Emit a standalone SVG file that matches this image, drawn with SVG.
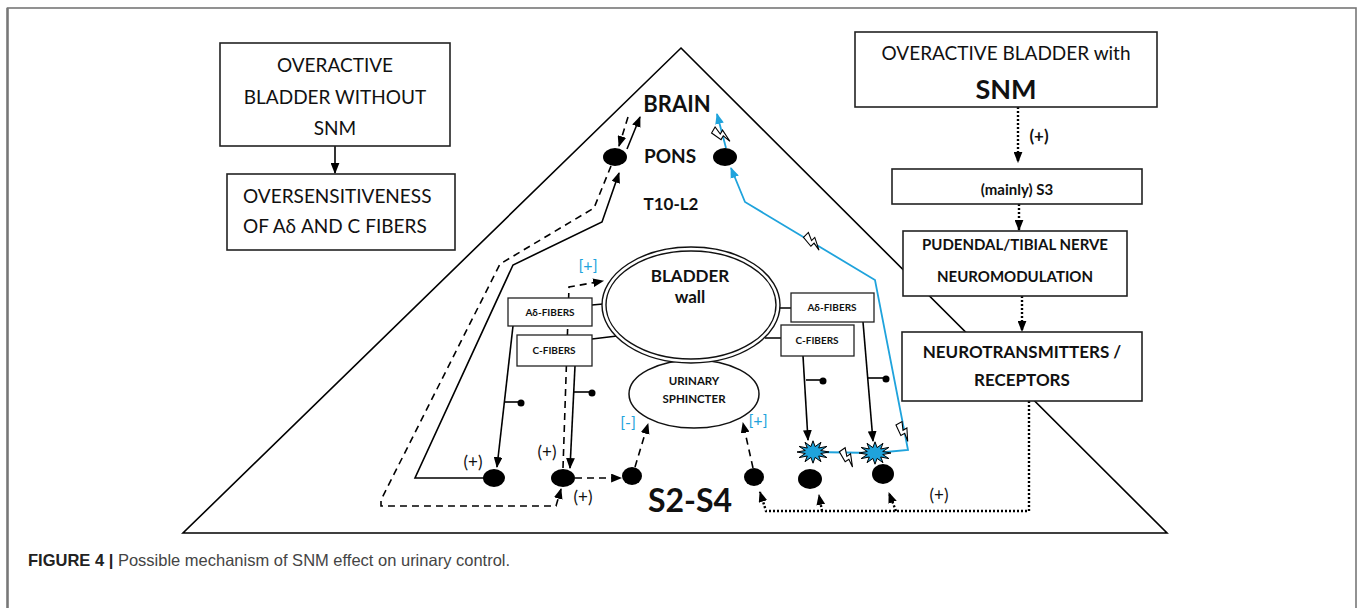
<svg xmlns="http://www.w3.org/2000/svg" width="1358" height="608" viewBox="0 0 1358 608">
<defs>
<style>
.box{fill:#fff;stroke:#222;stroke-width:1.6}
.fb{fill:#fff;stroke:#222;stroke-width:1.3}
.t{font-family:Lato,"Liberation Sans",sans-serif;fill:#111}
.b{font-weight:bold}
.ln{fill:none;stroke:#000;stroke-width:1.6}
.ds{fill:none;stroke:#000;stroke-width:1.6;stroke-dasharray:7 5}
.dt{fill:none;stroke:#000;stroke-width:2.4;stroke-dasharray:2 2}
.bl{fill:none;stroke:#1fa3dc;stroke-width:1.8}
.blt{fill:#1fa3dc}
.dot{fill:#000}
</style>
<marker id="ah" viewBox="0 0 10 8" refX="9" refY="4" markerWidth="11" markerHeight="9" markerUnits="userSpaceOnUse" orient="auto"><path d="M0,0L10,4L0,8z" fill="#000"/></marker>
<marker id="ahb" viewBox="0 0 10 8" refX="9" refY="4" markerWidth="11" markerHeight="9" markerUnits="userSpaceOnUse" orient="auto"><path d="M0,0L10,4L0,8z" fill="#1fa3dc"/></marker>
<path id="bolt" d="M-3.5,-10 L3.5,-10 L0,-2 L4.5,-2 L-1.5,10 L0,1.5 L-4.5,1.5 Z" fill="#fff" stroke="#000" stroke-width="1.1"/>
<path id="star" d="M16,0 L7.7,1.5 L13.9,5.6 L5.7,4 L8,9.7 L2.1,5.4 L0,11.2 L-2.1,5.4 L-8,9.7 L-5.7,4 L-13.9,5.6 L-7.7,1.5 L-16,0 L-7.7,-1.5 L-13.9,-5.6 L-5.7,-4 L-8,-9.7 L-2.1,-5.4 L0,-11.2 L2.1,-5.4 L8,-9.7 L5.7,-4 L13.9,-5.6 L7.7,-1.5 Z" fill="#1fa3dc" stroke="#000" stroke-width="1"/>
</defs>
<rect width="1358" height="608" fill="#fff"/>
<rect x="7.5" y="8" width="1348.5" height="640" fill="none" stroke="#777" stroke-width="1.6"/>
<line x1="7.5" y1="8" x2="7.5" y2="608" stroke="#777" stroke-width="2.4"/>

<g id="triangle"><polygon points="681,48 1167,533 183,533" fill="none" stroke="#000" stroke-width="1.6"/></g>

<g id="connectors">
<line x1="335" y1="146" x2="335" y2="173" class="ln" marker-end="url(#ah)"/>
<line x1="1018" y1="107" x2="1018" y2="162" class="dt" marker-end="url(#ah)"/>
<line x1="1019" y1="204" x2="1019" y2="230" class="dt" marker-end="url(#ah)"/>
<line x1="1022" y1="296" x2="1022" y2="331" class="dt" marker-end="url(#ah)"/>
<path d="M1029,401 V511 H766 L760,492" class="dt" marker-end="url(#ah)"/>
<path d="M822,511 L819,495" class="dt" marker-end="url(#ah)"/>
<path d="M896,511 L889,493" class="dt" marker-end="url(#ah)"/>
<path d="M628,117 L619,146" class="ds" marker-end="url(#ah)"/>
<path d="M611,166 L594,208 L500,264 L381,500 L381,506 L556,506 L561,489" class="ds" marker-end="url(#ah)"/>
<path d="M485,478 L415,478 L513,265 L602,222 L619,173" class="ln" marker-end="url(#ah)"/>
<path d="M627,149 L640,117" class="ln" marker-end="url(#ah)"/>
<path d="M513,326 L497,467" class="ln" marker-end="url(#ah)"/>
<path d="M505,402 H521" class="ln"/><circle cx="521" cy="403" r="3.5" class="dot"/>
<path d="M575,366 L570,468" class="ln" marker-end="url(#ah)"/>
<path d="M573,392 H592" class="ln"/><circle cx="592" cy="393" r="3.5" class="dot"/>
<path d="M563,468 L569,287 L603,281" class="ds" marker-end="url(#ah)"/>
<path d="M575,478 L621,478" class="ds" marker-end="url(#ah)"/>
<path d="M635,467 L648,424" class="ds" marker-end="url(#ah)"/>
<path d="M753,468 L743,423" class="ds" marker-end="url(#ah)"/>
<path d="M592,305 L603,304 M592,339 L617,336 M775,308 L791,308 M765,338 L781,338" class="ln"/>
<path d="M803,356 L808,440" class="ln" marker-end="url(#ah)"/>
<path d="M806,380 H823" class="ln"/><circle cx="823" cy="381" r="3.5" class="dot"/>
<path d="M863,322 L873,441" class="ln" marker-end="url(#ah)"/>
<path d="M867,378 H886" class="ln"/><circle cx="886" cy="379" r="3.5" class="dot"/>
<path d="M813,452 L875,453 L908,450 L875,280 L745,202 L731,168" class="bl" marker-end="url(#ahb)"/>
<path d="M726,148 L717,114" class="bl" marker-end="url(#ahb)"/>
<use href="#bolt" transform="translate(722,135) rotate(-60)"/>
<use href="#bolt" transform="translate(813,242) rotate(-45)"/>
<use href="#bolt" transform="translate(904,432) rotate(-30)"/>
<use href="#bolt" transform="translate(848,458) rotate(-35)"/>
<use href="#star" transform="translate(813,452)"/>
<use href="#star" transform="translate(875,453)"/>
</g>

<g id="n-oab-without">
<rect x="220" y="43" width="230" height="103" class="box"/>
<text class="t" font-size="19" text-anchor="middle"><tspan x="335" y="72">OVERACTIVE</tspan><tspan x="335" y="104">BLADDER WITHOUT</tspan><tspan x="335" y="135">SNM</tspan></text>
</g>
<g id="n-oversens">
<rect x="227" y="174" width="228" height="76" class="box"/>
<text class="t" font-size="19"><tspan x="243" y="203">OVERSENSITIVENESS</tspan><tspan x="243" y="233">OF Aδ AND C FIBERS</tspan></text>
</g>
<g id="n-oab-snm">
<rect x="855" y="32" width="302" height="75" class="box"/>
<text class="t" font-size="19" text-anchor="middle" x="1006" y="60">OVERACTIVE BLADDER with</text>
<text class="t b" font-size="27" text-anchor="middle" x="1006" y="99">SNM</text>
<text class="t b" font-size="17" text-anchor="middle" x="1039" y="142">(+)</text>
</g>
<g id="n-s3">
<rect x="892" y="169" width="250" height="35" class="box"/>
<text class="t b" font-size="15" text-anchor="middle" x="1017" y="195">(mainly) S3</text>
</g>
<g id="n-pudendal">
<rect x="903" y="231" width="224" height="65" class="box"/>
<text class="t b" font-size="15" text-anchor="middle"><tspan x="1015" y="250">PUDENDAL/TIBIAL NERVE</tspan><tspan x="1015" y="282">NEUROMODULATION</tspan></text>
</g>
<g id="n-neuro">
<rect x="902" y="332" width="240" height="69" class="box"/>
<text class="t b" font-size="17" text-anchor="middle"><tspan x="1022" y="358">NEUROTRANSMITTERS /</tspan><tspan x="1022" y="386">RECEPTORS</tspan></text>
</g>

<g id="n-labels">
<text class="t b" font-size="22" text-anchor="middle" x="677" y="112">BRAIN</text>
<text class="t b" font-size="19" text-anchor="middle" x="670" y="163">PONS</text>
<text class="t b" font-size="17" text-anchor="middle" x="671" y="210">T10-L2</text>
<text class="t b" font-size="32" text-anchor="middle" x="690" y="512">S2-S4</text>
</g>

<g id="n-pons-dots">
<ellipse cx="615" cy="157" rx="12" ry="9" class="dot"/>
<ellipse cx="725" cy="157" rx="12" ry="9" class="dot"/>
</g>

<g id="n-sphincter">
<ellipse cx="694" cy="394" rx="65" ry="34" fill="#fff" stroke="#111" stroke-width="1.5"/>
<text class="t b" font-size="11.5" text-anchor="middle"><tspan x="694" y="385">URINARY</tspan><tspan x="694" y="403">SPHINCTER</tspan></text>
</g>
<g id="n-bladder">
<ellipse cx="691" cy="305" rx="89" ry="58" fill="#fff" stroke="#111" stroke-width="1.4"/>
<ellipse cx="691" cy="305" rx="85" ry="54" fill="none" stroke="#111" stroke-width="1.4"/>
<text class="t b" font-size="17" text-anchor="middle" x="690" y="282">BLADDER</text>
<text class="t b" font-size="17" text-anchor="middle" x="690" y="303">wall</text>
</g>

<g id="n-ad-left"><rect x="508" y="298" width="84" height="28" class="fb"/><text class="t b" font-size="10" text-anchor="middle" x="550" y="316">Aδ-FIBERS</text></g>
<g id="n-c-left"><rect x="517" y="335" width="75" height="31" class="fb"/><text class="t b" font-size="10" text-anchor="middle" x="554" y="354">C-FIBERS</text></g>
<g id="n-ad-right"><rect x="791" y="293" width="83" height="29" class="fb"/><text class="t b" font-size="10" text-anchor="middle" x="832" y="311">Aδ-FIBERS</text></g>
<g id="n-c-right"><rect x="781" y="325" width="73" height="31" class="fb"/><text class="t b" font-size="10" text-anchor="middle" x="817" y="344">C-FIBERS</text></g>

<g id="n-spinal-dots">
<ellipse cx="494" cy="478" rx="11" ry="9" class="dot"/>
<ellipse cx="563" cy="478" rx="12" ry="9" class="dot"/>
<ellipse cx="632" cy="476" rx="10" ry="9" class="dot"/>
<ellipse cx="754" cy="477" rx="10" ry="9" class="dot"/>
<ellipse cx="810" cy="479" rx="12" ry="10" class="dot"/>
<ellipse cx="883" cy="474" rx="11" ry="10" class="dot"/>
</g>

<g id="n-signs">
<text class="t" font-size="17" text-anchor="middle" x="473" y="468">(+)</text>
<text class="t" font-size="17" text-anchor="middle" x="547" y="458">(+)</text>
<text class="t" font-size="17" text-anchor="middle" x="583" y="503">(+)</text>
<text class="t" font-size="17" text-anchor="middle" x="939" y="501">(+)</text>
<text class="t blt" font-size="16" text-anchor="middle" x="588" y="271">[+]</text>
<text class="t blt" font-size="16" text-anchor="middle" x="628" y="428">[-]</text>
<text class="t blt" font-size="16" text-anchor="middle" x="758" y="426">[+]</text>
</g>

<g id="caption">
<text font-family="'Liberation Sans',Arial,sans-serif" font-size="16.5" x="28" y="566" fill="#444"><tspan font-weight="bold" fill="#222">FIGURE 4 |</tspan> Possible mechanism of SNM effect on urinary control.</text>
</g>
</svg>
